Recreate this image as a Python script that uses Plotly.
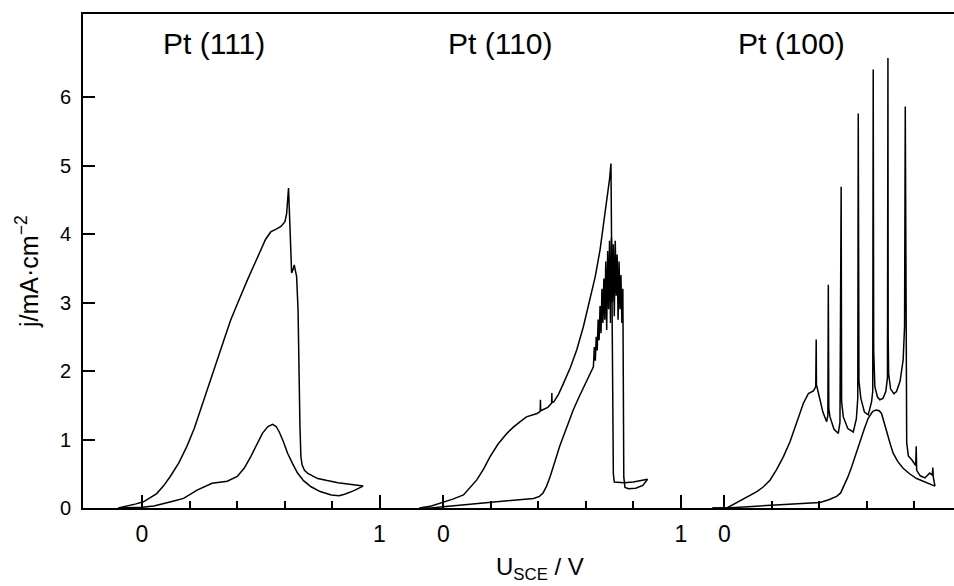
import plotly.graph_objects as go

# ---------------- data (U_SCE / V , j / mA cm^-2) ----------------
# Pt(111): positive-going scan (lower branch)
pt111_forward = [(-0.10, 0.00), (-0.05, 0.00), (0.00, 0.01), (0.05, 0.03), (0.09, 0.07), (0.13, 0.10),
                 (0.175, 0.14), (0.232, 0.26), (0.295, 0.36), (0.33, 0.38), (0.359, 0.39), (0.401, 0.46),
                 (0.43, 0.58), (0.458, 0.75), (0.48, 0.90), (0.507, 1.09), (0.53, 1.19), (0.55, 1.22),
                 (0.565, 1.19), (0.578, 1.11), (0.595, 0.97), (0.613, 0.80), (0.635, 0.64), (0.655, 0.51),
                 (0.68, 0.40), (0.712, 0.31), (0.75, 0.24), (0.797, 0.19), (0.83, 0.18), (0.853, 0.20),
                 (0.89, 0.25), (0.931, 0.32)]
# Pt(111): negative-going scan (upper branch)
pt111_reverse = [(0.931, 0.32), (0.88, 0.34), (0.825, 0.37), (0.78, 0.40), (0.74, 0.43), (0.70, 0.50),
                 (0.684, 0.55), (0.674, 0.63), (0.669, 0.75), (0.665, 1.20), (0.662, 2.01), (0.657, 2.90),
                 (0.651, 3.38), (0.646, 3.50), (0.641, 3.55), (0.636, 3.48), (0.630, 3.43), (0.617, 4.67),
                 (0.609, 4.30), (0.602, 4.18), (0.585, 4.11), (0.565, 4.07), (0.542, 4.03), (0.52, 3.92),
                 (0.50, 3.77), (0.475, 3.58), (0.444, 3.33), (0.41, 3.05), (0.373, 2.74), (0.34, 2.40),
                 (0.302, 2.01), (0.275, 1.72), (0.246, 1.43), (0.22, 1.16), (0.189, 0.90), (0.155, 0.66),
                 (0.119, 0.46), (0.09, 0.32), (0.062, 0.21), (0.03, 0.14), (0.006, 0.09), (-0.025, 0.06),
                 (-0.051, 0.04), (-0.10, 0.00)]

# Pt(110): positive-going scan (lower branch, noisy near the top)
pt110_forward = [(-0.10, 0.00), (-0.05, 0.00), (0.00, 0.02), (0.10, 0.05), (0.20, 0.08), (0.30, 0.11),
                 (0.38, 0.14), (0.405, 0.17), (0.42, 0.22), (0.435, 0.32), (0.45, 0.46), (0.47, 0.68),
                 (0.49, 0.90), (0.52, 1.18), (0.547, 1.43), (0.57, 1.61), (0.59, 1.75), (0.61, 1.90),
                 (0.632, 2.06), (0.636, 2.35), (0.640, 2.15), (0.644, 2.50), (0.648, 2.30), (0.652, 2.75),
                 (0.656, 2.45), (0.660, 2.95), (0.664, 2.55), (0.668, 3.20), (0.672, 2.70), (0.676, 3.35),
                 (0.680, 2.75), (0.684, 3.60), (0.688, 2.60), (0.692, 3.75), (0.696, 2.90), (0.700, 3.90),
                 (0.704, 2.70), (0.708, 3.95), (0.712, 3.00), (0.716, 3.85), (0.720, 2.80), (0.724, 3.90),
                 (0.728, 3.10), (0.732, 3.70), (0.736, 2.75), (0.740, 3.60), (0.744, 2.90), (0.748, 3.40),
                 (0.752, 2.70), (0.756, 3.20), (0.758, 1.50), (0.760, 0.45), (0.765, 0.30), (0.78, 0.28),
                 (0.81, 0.29), (0.84, 0.33), (0.86, 0.42)]
# Pt(110): negative-going scan (upper branch)
pt110_reverse = [(0.86, 0.42), (0.83, 0.40), (0.80, 0.38), (0.76, 0.37), (0.73, 0.37), (0.72, 0.38),
                 (0.716, 0.50), (0.712, 2.60), (0.706, 5.03), (0.700, 4.80), (0.688, 4.50), (0.675, 4.15),
                 (0.66, 3.77), (0.64, 3.38), (0.618, 3.04), (0.59, 2.65), (0.562, 2.31), (0.535, 2.05),
                 (0.506, 1.82), (0.485, 1.66), (0.465, 1.55), (0.458, 1.54), (0.457, 1.68), (0.456, 1.53),
                 (0.44, 1.47), (0.425, 1.44), (0.410, 1.42), (0.409, 1.58), (0.408, 1.41), (0.395, 1.38),
                 (0.379, 1.36), (0.35, 1.33), (0.324, 1.26), (0.295, 1.18), (0.268, 1.09), (0.23, 0.93),
                 (0.197, 0.75), (0.17, 0.57), (0.141, 0.41), (0.11, 0.28), (0.085, 0.19), (0.04, 0.13),
                 (0.00, 0.09), (-0.05, 0.03), (-0.10, 0.00)]

# Pt(100): positive-going scan (lower branch)
pt100_forward = [(-0.05, 0.00), (0.011, 0.00), (0.10, 0.02), (0.20, 0.04), (0.30, 0.055), (0.403, 0.08),
                 (0.44, 0.12), (0.473, 0.17), (0.49, 0.22), (0.501, 0.30), (0.52, 0.45), (0.536, 0.60),
                 (0.555, 0.80), (0.571, 0.99), (0.59, 1.16), (0.606, 1.31), (0.625, 1.41), (0.639, 1.43),
                 (0.652, 1.42), (0.662, 1.38), (0.672, 1.25), (0.684, 1.09), (0.70, 0.92), (0.711, 0.80),
                 (0.73, 0.68), (0.753, 0.58), (0.78, 0.50), (0.81, 0.43), (0.85, 0.37), (0.887, 0.32)]
# Pt(100): negative-going scan (upper branch with current spikes)
pt100_reverse = [(0.887, 0.32), (0.880, 0.45), (0.878, 0.59), (0.876, 0.48), (0.865, 0.51), (0.845, 0.44),
                 (0.825, 0.47), (0.810, 0.55), (0.808, 0.90), (0.806, 0.62), (0.790, 0.70), (0.775, 0.76),
                 (0.768, 0.95), (0.766, 2.50), (0.762, 5.86), (0.759, 2.65), (0.753, 2.16), (0.740, 1.85),
                 (0.725, 1.70), (0.714, 1.67), (0.700, 1.74), (0.692, 1.96), (0.690, 2.50), (0.689, 6.57),
                 (0.687, 1.90), (0.680, 1.70), (0.668, 1.60), (0.655, 1.58), (0.645, 1.62), (0.634, 1.77),
                 (0.629, 2.30), (0.627, 6.40), (0.625, 1.70), (0.620, 1.55), (0.606, 1.36), (0.590, 1.40),
                 (0.575, 1.60), (0.567, 1.85), (0.564, 5.76), (0.562, 1.60), (0.556, 1.30), (0.543, 1.11),
                 (0.520, 1.16), (0.501, 1.33), (0.494, 1.55), (0.492, 4.69), (0.490, 1.40), (0.487, 1.25),
                 (0.480, 1.09), (0.462, 1.15), (0.445, 1.33), (0.440, 1.45), (0.438, 3.26), (0.436, 1.35),
                 (0.431, 1.26), (0.415, 1.40), (0.403, 1.58), (0.390, 1.75), (0.388, 1.80), (0.387, 2.46),
                 (0.385, 1.77), (0.375, 1.71), (0.354, 1.67), (0.333, 1.53), (0.298, 1.19), (0.277, 0.97),
                 (0.249, 0.75), (0.220, 0.56), (0.193, 0.41), (0.165, 0.31), (0.137, 0.24), (0.110, 0.19),
                 (0.081, 0.14), (0.050, 0.08), (0.011, 0.00), (-0.05, 0.00)]

panel_titles = ["Pt (111)", "Pt (110)", "Pt (100)"]
x_major_ticks = [[0, 1], [0, 1], [0]]
x_minor_ticks = [0.2, 0.4, 0.6, 0.8]
y_ticks = [0, 1, 2, 3, 4, 5, 6]
y_title = "j/mA·cm<sup>−2</sup>"
x_title = "U<sub>SCE</sub> / V"

# ---------------- layout geometry (window pixel coordinates) ----------------
W, H = 954, 586
left_px, top_px, right_px, axis_px = 83, 14, 954, 508
L, T, R, B = left_px, top_px, W - right_px, H - axis_px
plot_w = right_px - left_px
plot_h = axis_px - top_px
px_per_v = 237.5
zeros_px = [142, 443.3, 724.3]          # pixel position of U = 0 in each panel
splits_px = [left_px, 411, 702, right_px]
domains = [((splits_px[i] - left_px) / plot_w, (splits_px[i + 1] - left_px) / plot_w) for i in range(3)]
ranges = [((splits_px[i] - zeros_px[i]) / px_per_v, (splits_px[i + 1] - zeros_px[i]) / px_per_v)
          for i in range(3)]
y_max = plot_h / 68.5


def px_x(px):
    return (px - left_px) / plot_w


def px_y(py):
    return (axis_px - py) / plot_h


FONT = "Liberation Sans, Arial, sans-serif"
fig = go.Figure()
series = [(pt111_forward, pt111_reverse), (pt110_forward, pt110_reverse), (pt100_forward, pt100_reverse)]
for i, (fw, rv) in enumerate(series):
    xa = "x" if i == 0 else f"x{i + 1}"
    for branch in (fw, rv):
        fig.add_trace(go.Scatter(x=[p[0] for p in branch], y=[p[1] for p in branch],
                                 mode="lines", xaxis=xa, yaxis="y",
                                 line=dict(color="black", width=1.5), showlegend=False,
                                 hoverinfo="skip"))

layout = dict(
    width=W, height=H, margin=dict(l=L, r=R, t=T, b=B, pad=0),
    paper_bgcolor="white", plot_bgcolor="white", showlegend=False,
    font=dict(family=FONT, color="black"),
    yaxis=dict(domain=[0, 1], range=[0, y_max], anchor="x", tickvals=y_ticks,
               ticks="inside", ticklen=12, tickwidth=2, tickcolor="black",
               showline=True, linewidth=2, linecolor="black", showgrid=False, zeroline=False,
               tickfont=dict(size=20, family=FONT), ticklabelstandoff=6),
)
for i in range(3):
    key = "xaxis" if i == 0 else f"xaxis{i + 1}"
    layout[key] = dict(domain=list(domains[i]), range=list(ranges[i]), anchor="y",
                       tickvals=x_major_ticks[i], ticktext=[str(v) for v in x_major_ticks[i]],
                       ticks="inside", ticklen=13, tickwidth=1.5, tickcolor="black",
                       minor=dict(tickvals=x_minor_ticks, ticks="inside", ticklen=7,
                                  tickwidth=1.5, tickcolor="black"),
                       showline=True, linewidth=2, linecolor="black", mirror=True,
                       showgrid=False, zeroline=False,
                       tickfont=dict(size=23, family=FONT), ticklabelstandoff=4)
fig.update_layout(**layout)

title_x_px = [214, 500, 791]
for i, t in enumerate(panel_titles):
    fig.add_annotation(text=t, xref="paper", yref="paper", x=px_x(title_x_px[i]), y=px_y(43),
                       showarrow=False, xanchor="center", yanchor="middle",
                       font=dict(size=30, family=FONT))
fig.add_annotation(text=x_title, xref="paper", yref="paper", x=px_x(540), y=px_y(568),
                   showarrow=False, xanchor="center", yanchor="middle",
                   font=dict(size=24, family=FONT))
fig.add_annotation(text=y_title, xref="paper", yref="paper", x=px_x(27), y=px_y(272),
                   showarrow=False, xanchor="center", yanchor="middle",
                   textangle=-90, font=dict(size=25, family=FONT))

# remove the default page margin so the 954x586 figure fills the window exactly
page_fix = "document.body.style.margin='0';document.body.style.overflow='hidden';"
fig.write_html("out.html", post_script=page_fix, config={"displayModeBar": False})
